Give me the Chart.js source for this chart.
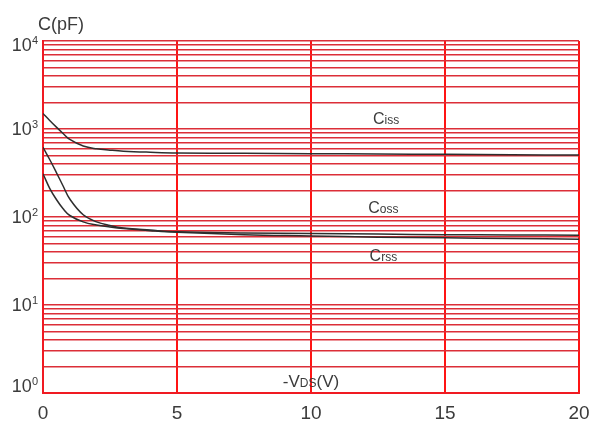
<!DOCTYPE html>
<html>
<head>
<meta charset="utf-8">
<script src="https://cdn.jsdelivr.net/npm/chart.js@4/dist/chart.umd.min.js"></script>
<style>
  html, body { margin: 0; padding: 0; background: #ffffff; }
  canvas { display: block; }
</style>
</head>
<body>
<canvas id="cap" width="590" height="421"></canvas>
<script>
// Drain-source voltage, -VDS (V)
const vds  = [0, 0.25, 0.5, 0.75, 1, 1.5, 2, 2.5, 3, 4, 5, 7.5, 10, 12.5, 15, 17.5, 20];
// Capacitances, pF
const ciss = [1500, 1250, 1050, 890, 760, 640, 595, 575, 560, 545, 535, 530, 525, 520, 515, 510, 505];
const coss = [620, 450, 320, 225, 160, 106, 88, 80, 75, 71, 68, 66, 65, 64, 63, 62.5, 62];
const crss = [310, 212, 158, 124, 104, 88, 81, 77, 74, 70, 67, 63, 61, 59, 58, 57, 56];

// Axis ticks
const xTicks = [0, 5, 10, 15, 20];
const yDecades = [0, 1, 2, 3, 4];

const toPoints = vals => vds.map((v, i) => ({ x: v, y: vals[i] }));

const FONT = '"Liberation Sans", Arial, sans-serif';
const INK = '#3b3b3b';
const Y_MAX = Math.pow(10, yDecades[yDecades.length - 1]);
const X_MAX = xTicks[xTicks.length - 1];

// 1..9 x 10^n grid for the log axis
function logGridTicks() {
  const out = [];
  for (let e = yDecades[0]; e < yDecades[yDecades.length - 1]; e++) {
    for (let m = 1; m <= 9; m++) out.push({ value: m * Math.pow(10, e) });
  }
  out.push({ value: Y_MAX });
  return out;
}

// Draws a base string followed by smaller raised or lowered parts
function drawSplit(ctx, parts, x, y) {
  let cx = x;
  for (const p of parts) {
    ctx.font = p.size + 'px ' + FONT;
    ctx.fillText(p.text, cx, y + (p.dy || 0));
    cx += ctx.measureText(p.text).width;
  }
}
function splitWidth(ctx, parts) {
  let w = 0;
  for (const p of parts) {
    ctx.font = p.size + 'px ' + FONT;
    w += ctx.measureText(p.text).width;
  }
  return w;
}

const textPlugin = {
  id: 'capTexts',
  beforeDraw(chart) {
    const ctx = chart.ctx;
    ctx.save();
    ctx.fillStyle = '#ffffff';
    ctx.fillRect(0, 0, chart.width, chart.height);
    ctx.restore();
  },
  afterDraw(chart) {
    const { ctx, chartArea, scales: { x, y } } = chart;
    ctx.save();
    ctx.fillStyle = INK;
    ctx.textBaseline = 'alphabetic';

    // x tick labels
    ctx.font = '19px ' + FONT;
    ctx.textAlign = 'center';
    xTicks.forEach(v => ctx.fillText(String(v), x.getPixelForValue(v), 419));

    // y tick labels as powers of ten
    ctx.textAlign = 'left';
    yDecades.forEach(e => {
      let py = y.getPixelForValue(Math.pow(10, e));
      py = Math.min(Math.max(py, chartArea.top + 4), chartArea.bottom - 7);
      const parts = [
        { text: '10', size: 18, dy: 6 },
        { text: String(e), size: 11, dy: -1 }
      ];
      const w = splitWidth(ctx, parts);
      drawSplit(ctx, parts, chartArea.left - 5 - w, py);
    });

    // axis titles
    ctx.font = '18px ' + FONT;
    ctx.fillText('C(pF)', chartArea.left - 5, 30);

    const vx = x.getPixelForValue(10);
    const vy = y.getPixelForValue(1.4) + 7;
    const vParts = [
      { text: '-V', size: 17 },
      { text: 'DS', size: 12 },
      { text: '(V)', size: 17 }
    ];
    drawSplit(ctx, vParts, vx - splitWidth(ctx, vParts) / 2, vy);

    // curve labels
    const tag = (sub, xv, yv) => {
      const parts = [{ text: 'C', size: 16 }, { text: sub, size: 12 }];
      const w = splitWidth(ctx, parts);
      drawSplit(ctx, parts, x.getPixelForValue(xv) - w / 2, y.getPixelForValue(yv) + 6);
    };
    tag('iss', 12.8, 1333);
    tag('oss', 12.7, 130);
    tag('rss', 12.7, 37);

    ctx.restore();
  }
};

new Chart(document.getElementById('cap'), {
  type: 'line',
  data: {
    datasets: [
      { label: 'Ciss', data: toPoints(ciss) },
      { label: 'Coss', data: toPoints(coss) },
      { label: 'Crss', data: toPoints(crss) }
    ].map(d => Object.assign(d, {
      borderColor: '#2e2e2e',
      borderWidth: 1.5,
      pointRadius: 0,
      fill: false,
      tension: 0.4
    }))
  },
  options: {
    responsive: false,
    devicePixelRatio: 1,
    animation: false,
    layout: { padding: { left: 43, right: 11, top: 41, bottom: 28 } },
    plugins: { legend: { display: false }, tooltip: { enabled: false } },
    scales: {
      x: {
        type: 'linear',
        min: 0,
        max: X_MAX,
        afterBuildTicks: s => { s.ticks = xTicks.map(v => ({ value: v })); },
        ticks: { display: false },
        grid: { color: '#ff1414', lineWidth: 2, drawTicks: false },
        border: { display: true, color: '#f01a22', width: 2 }
      },
      y: {
        type: 'logarithmic',
        min: 1,
        max: Y_MAX,
        afterBuildTicks: s => { s.ticks = logGridTicks(); },
        ticks: { display: false, autoSkip: false },
        grid: { color: '#dc2e38', lineWidth: 1.5, drawTicks: false },
        border: { display: true, color: '#f01a22', width: 2 }
      }
    }
  },
  plugins: [textPlugin]
});
</script>
</body>
</html>
